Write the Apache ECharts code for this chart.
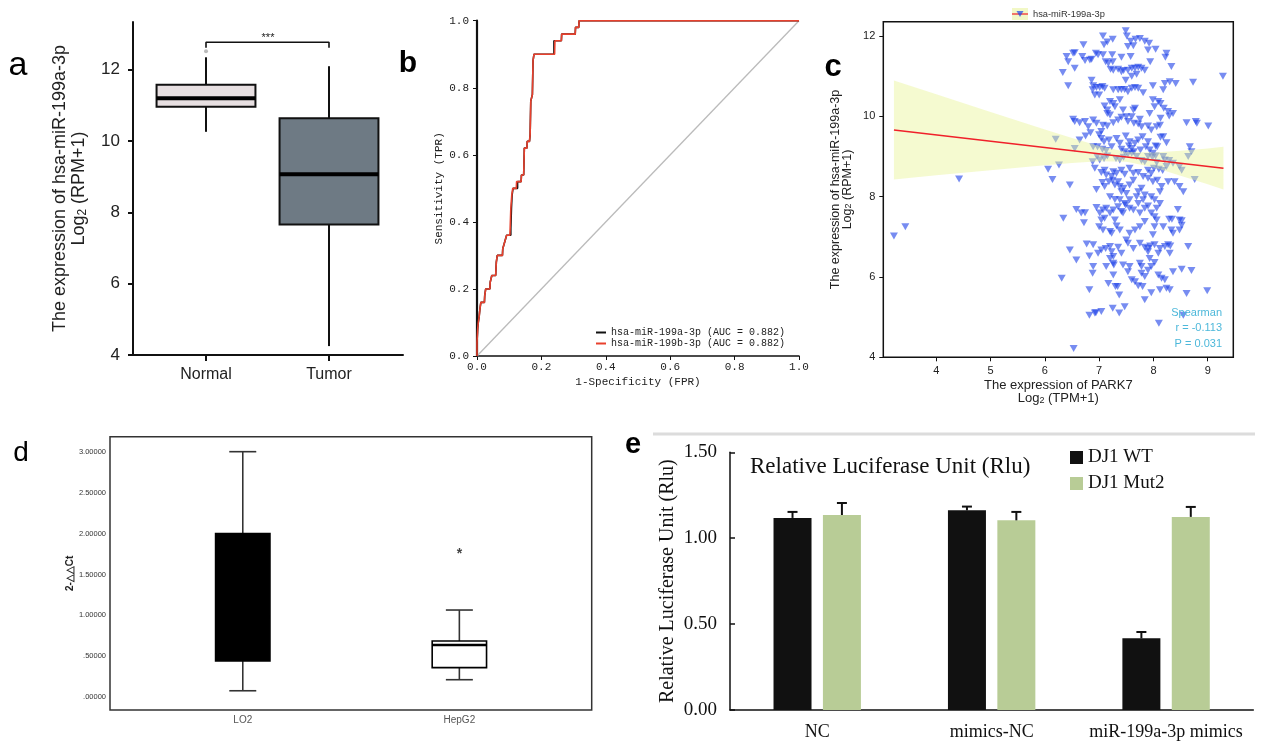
<!DOCTYPE html>
<html>
<head>
<meta charset="utf-8">
<title>hsa-miR-199a-3p and PARK7</title>
<script src="https://cdn.jsdelivr.net/npm/echarts@6/dist/echarts.min.js"></script>
<style>
html, body { margin: 0; padding: 0; background: #fff; }
#container0 { width: 1265px; height: 745px; }
</style>
</head>
<body>
<div id="container0"></div>
<script>
var SANS = 'Liberation Sans, Arial, sans-serif';
var SERIF = 'Liberation Serif, Times New Roman, serif';
var MONO = 'Liberation Mono, DejaVu Sans Mono, monospace';

// a: 表达量箱线图 (min, Q1, median, Q3, max)
var aCats = ['Normal', 'Tumor'];
var aBox = [[10.26, 10.96, 11.20, 11.58, 12.35], [4.25, 7.66, 9.07, 10.64, 12.10]];
var aOutlier = [[1, 12.52]];
var aBracket = [[1, 12.62], [1, 12.77], [2, 12.77], [2, 12.62]];
var aTicks = [4, 6, 8, 10, 12];

// b: ROC
var rocRed = [[0, 0], [0, 0.04], [0.002, 0.08], [0.004, 0.1], [0.007, 0.12], [0.009, 0.14], [0.012, 0.16], [0.023, 0.16],
    [0.024, 0.18], [0.027, 0.2], [0.04, 0.2], [0.041, 0.22], [0.046, 0.24], [0.058, 0.24], [0.06, 0.28], [0.063, 0.3],
    [0.079, 0.3], [0.08, 0.32], [0.086, 0.34], [0.092, 0.36], [0.102, 0.36], [0.103, 0.38], [0.105, 0.44], [0.108, 0.48],
    [0.111, 0.5], [0.122, 0.5], [0.123, 0.52], [0.137, 0.52], [0.138, 0.54], [0.145, 0.54], [0.147, 0.62], [0.155, 0.62],
    [0.156, 0.64], [0.163, 0.64], [0.165, 0.66], [0.167, 0.76], [0.172, 0.78], [0.174, 0.88], [0.177, 0.9], [0.241, 0.9],
    [0.242, 0.94], [0.262, 0.94], [0.263, 0.96], [0.305, 0.96], [0.306, 0.98], [0.316, 0.98], [0.317, 1.0], [1, 1]];
var rocBlack = [[0, 0], [0, 0.04], [0.002, 0.08], [0.004, 0.1], [0.007, 0.12], [0.009, 0.14], [0.012, 0.16], [0.023, 0.16],
    [0.024, 0.18], [0.027, 0.2], [0.04, 0.2], [0.041, 0.22], [0.046, 0.24], [0.058, 0.24], [0.06, 0.28], [0.063, 0.3],
    [0.079, 0.3], [0.08, 0.32], [0.086, 0.34], [0.092, 0.36], [0.105, 0.36], [0.105, 0.38], [0.107, 0.44], [0.109, 0.48],
    [0.112, 0.5], [0.126, 0.5], [0.126, 0.52], [0.137, 0.52], [0.138, 0.54], [0.145, 0.54], [0.147, 0.62], [0.155, 0.62],
    [0.156, 0.64], [0.163, 0.64], [0.165, 0.66], [0.167, 0.76], [0.172, 0.78], [0.174, 0.88], [0.177, 0.9], [0.239, 0.9],
    [0.239, 0.94], [0.262, 0.94], [0.263, 0.96], [0.305, 0.96], [0.306, 0.98], [0.316, 0.98], [0.317, 1.0], [1, 1]];
var rocRef = [[0, 0], [1, 1]];
var rocNames = ['hsa-miR-199a-3p (AUC = 0.882)', 'hsa-miR-199b-3p (AUC = 0.882)'];

// c: PARK7 与 miR-199a-3p 散点
var park7Mir = [
    [7.49,12.13],[7.07,12.0],[7.25,11.92],[7.15,11.85],[7.09,11.78],[7.51,12.0],[7.58,11.87],[7.63,11.76],[7.53,11.74],[7.75,11.94],
    [7.67,11.92],[7.84,11.87],[7.92,11.82],[7.90,11.65],[8.04,11.67],[6.71,11.78],[6.86,11.42],[8.24,11.57],[8.22,11.47],[8.33,11.24],
    [6.40,11.49],[6.43,11.36],[6.52,11.57],[6.55,11.58],[6.55,11.20],[6.69,11.49],[6.74,11.39],[6.83,11.40],[6.94,11.57],[6.98,11.53],
    [7.07,11.53],[7.12,11.36],[7.17,11.32],[7.24,11.53],[7.25,11.36],[7.41,11.47],[7.58,11.49],[7.94,11.36],[7.21,11.17],[7.26,11.15],
    [7.35,11.17],[7.41,11.11],[7.45,11.14],[7.53,11.15],[7.60,11.20],[7.66,11.20],[7.72,11.22],[7.78,11.20],[7.84,11.15],[7.69,11.05],
    [7.60,11.00],[7.49,10.90],[6.33,11.09],[6.43,10.76],[9.28,11.00],[8.73,10.85],
    [6.86,10.90],[6.89,10.76],[6.95,10.72],[7.01,10.72],[7.06,10.74],[6.88,10.66],[6.92,10.53],[7.00,10.53],[7.10,10.70],[7.26,10.66],
    [7.35,10.66],[7.41,10.67],[7.47,10.67],[7.53,10.61],[7.60,10.70],[7.66,10.72],[7.72,10.70],[7.81,10.59],[7.99,10.76],[8.18,10.66],
    [8.30,10.86],[8.41,10.82],[8.21,10.82],[7.99,10.41],[8.09,10.37],[8.13,10.32],[8.02,10.24],[8.19,10.20],[8.27,10.12],[8.36,10.07],
    [7.20,10.37],[7.26,10.32],[7.38,10.41],[7.15,10.16],[7.20,10.03],[7.29,10.24],[7.44,10.16],[7.50,9.99],[7.60,9.99],[7.63,10.16],
    [7.66,10.20],[7.75,9.93],[7.93,10.07],[8.13,9.95],[8.29,10.01],[7.15,10.07],[7.10,10.26],[6.95,9.83],[7.04,9.62],
    [6.52,9.93],[6.55,9.87],[6.64,9.84],[6.74,9.87],[6.80,9.74],[6.89,9.91],[7.07,9.78],[7.15,9.76],[7.26,9.84],[7.35,9.91],
    [7.41,9.98],[7.53,9.87],[7.64,9.83],[7.72,9.81],[7.78,9.74],[7.90,9.76],[7.96,9.66],[8.06,9.74],[8.12,9.78],[8.61,9.84],
    [8.78,9.87],[8.80,9.83],[9.01,9.76],
    [6.20,9.43],[6.55,9.20],[6.64,9.41],[6.75,9.51],[6.84,9.59],[7.00,9.54],[7.04,9.45],[7.09,9.37],[7.18,9.41],[7.23,9.24],
    [7.32,9.45],[7.38,9.33],[7.49,9.51],[7.56,9.37],[7.66,9.33],[7.72,9.41],[7.80,9.49],[7.86,9.24],[7.90,9.37],[7.93,9.16],
    [8.04,9.26],[8.13,9.48],[8.18,9.49],[8.24,9.34],[6.89,9.24],[6.97,9.24],[7.06,9.18],[7.13,9.15],[7.41,9.18],[7.47,9.12],
    [7.55,9.26],[7.60,9.20],[7.64,9.12],[7.76,9.16],[7.99,9.08],[8.07,9.24],[8.67,9.24],[8.04,9.01],
    [6.06,8.68],[6.26,8.79],[6.14,8.43],[6.46,8.29],[6.88,8.87],[6.96,9.00],[7.01,8.91],[7.09,8.95],[7.15,9.01],[7.31,8.95],
    [7.38,8.91],[7.45,8.98],[7.53,9.06],[7.60,9.08],[7.69,9.00],[7.78,8.90],[7.84,8.87],[7.90,9.00],[7.98,8.98],[8.06,8.85],
    [8.18,9.00],[8.21,8.91],[8.29,8.90],[8.36,8.83],[8.48,8.75],[8.52,8.66],[8.64,9.00],[8.70,9.12],[8.76,8.43],[6.92,8.71],
    [7.04,8.60],[7.10,8.66],[7.13,8.54],[7.23,8.50],[7.26,8.62],[7.32,8.58],[7.41,8.66],[7.47,8.56],[7.56,8.71],[7.63,8.58],
    [7.72,8.60],[7.81,8.50],[7.90,8.66],[7.96,8.58],[8.01,8.71],[8.10,8.68],[8.17,8.65],[8.24,8.75],
    [6.95,8.18],[7.06,8.35],[7.10,8.25],[7.18,8.37],[7.25,8.41],[7.29,8.29],[7.35,8.37],[7.38,8.25],[7.41,8.12],[7.45,8.21],
    [7.50,8.08],[7.56,8.29],[7.63,8.41],[7.72,8.12],[7.78,8.21],[7.84,8.04],[7.90,8.46],[7.99,8.37],[8.07,8.41],[8.15,8.25],
    [8.27,8.37],[8.39,8.37],[8.48,8.25],[8.55,8.12],[7.20,8.00],[7.29,7.93],[7.38,7.92],[7.47,7.83],[7.56,7.92],[7.69,8.00],
    [7.81,7.92],[7.96,8.00],[8.02,7.92],[8.12,8.12],
    [6.58,7.68],[6.67,7.59],[6.74,7.60],[6.34,7.46],[6.72,7.35],[6.95,7.73],[7.01,7.59],[7.07,7.67],[7.13,7.71],[7.10,7.46],
    [7.20,7.59],[7.26,7.67],[7.29,7.42],[7.35,7.75],[7.41,7.63],[7.44,7.59],[7.49,7.79],[7.56,7.71],[7.63,7.67],[7.72,7.83],
    [7.75,7.59],[7.84,7.71],[7.90,7.77],[7.96,7.59],[8.02,7.50],[8.06,7.71],[8.12,7.83],[8.18,7.25],[8.29,7.44],[8.33,7.17],
    [8.36,7.09],[8.45,7.68],[8.48,7.42],[8.52,7.29],[8.34,7.44],[8.52,7.40],[7.04,7.42],[7.00,7.25],[7.07,7.17],[7.20,7.13],
    [7.23,7.09],[7.32,7.27],[7.38,7.17],[7.56,7.09],[7.66,7.17],[7.75,7.25],[7.84,7.38],[7.99,7.05],[8.06,7.42],[8.02,7.25],
    [6.46,6.67],[6.58,6.42],[6.77,6.82],[6.89,6.80],[6.82,6.52],[6.98,6.59],[7.04,6.67],[7.12,6.71],[7.20,6.76],[7.23,6.63],
    [7.26,6.51],[7.35,6.74],[7.41,6.59],[7.50,6.92],[7.53,6.84],[7.63,6.71],[7.75,6.84],[7.84,6.74],[7.90,6.71],[7.94,6.77],
    [8.02,6.80],[8.12,6.71],[8.21,6.76],[8.31,6.77],[8.48,7.17],[8.64,6.76],[8.09,6.59],[7.93,6.46],[7.90,6.63],[7.75,6.34],
    [7.78,6.26],[7.26,6.34],[7.27,6.30],[7.20,6.46],[8.30,6.59],[8.27,6.80],
    [6.31,5.97],[6.82,5.68],[6.89,6.26],[6.88,6.09],[7.13,6.26],[7.17,5.84],[7.26,6.05],[7.30,5.76],[7.34,5.76],[7.37,5.55],
    [7.44,6.30],[7.53,6.13],[7.56,6.26],[7.60,5.93],[7.66,5.88],[7.72,5.78],[7.78,6.09],[7.84,6.01],[7.90,6.17],[7.96,6.26],
    [8.02,6.36],[8.09,6.05],[8.15,5.97],[8.21,5.93],[8.24,5.72],[8.30,5.68],[8.36,6.13],[8.52,6.19],[8.70,6.16],[8.99,5.66],
    [8.61,5.59],[7.84,5.43],[7.80,5.76],[7.96,5.61],[8.12,5.68],
    [6.82,5.05],[6.92,5.10],[7.04,5.14],[7.25,5.22],[7.37,5.10],[7.47,5.26],[8.10,4.85],[8.55,5.05],[6.53,4.22],[6.94,5.11],
    [3.22,7.02],[3.43,7.25],[4.42,8.44]
];
var fitLine = [[3.22, 9.66], [9.29, 8.71]];
var bandX = [3.22, 4, 5, 6, 6.5, 7, 7.5, 8, 8.5, 9, 9.29];
var bandUpper = [10.89, 10.55, 10.11, 9.67, 9.46, 9.26, 9.11, 9.10, 9.14, 9.20, 9.24];
var bandLower = [8.43, 8.53, 8.66, 8.78, 8.84, 8.88, 8.87, 8.73, 8.52, 8.31, 8.18];
var cXTicks = [4, 5, 6, 7, 8, 9];
var cYTicks = [4, 6, 8, 10, 12];

// d: qPCR 箱线图
var dCats = ['LO2', 'HepG2'];
var dBox = [[0.08, 0.443, 0.98, 2.0, 3.0], [0.215, 0.362, 0.639, 0.688, 1.066]];
var dOutlier = [[2, 1.78]];
var dTicks = [0, 0.5, 1, 1.5, 2, 2.5, 3];

// e: 荧光素酶
var eCats = ['NC', 'mimics-NC', 'miR-199a-3p mimics'];
var wtMean = [1.118, 1.162, 0.417];
var wtErr = [0.035, 0.022, 0.037];
var mutMean = [1.135, 1.104, 1.124];
var mutErr = [0.070, 0.049, 0.058];

function boxRenderer(halfW, capW, fills, st) {
    return function (params, api) {
        var x = api.value(0);
        var lo = api.coord([x, api.value(1)]);
        var q1 = api.coord([x, api.value(2)]);
        var md = api.coord([x, api.value(3)]);
        var q3 = api.coord([x, api.value(4)]);
        var hi = api.coord([x, api.value(5)]);
        var l = api.coord([x - halfW, api.value(3)])[0];
        var r = api.coord([x + halfW, api.value(3)])[0];
        var cx = lo[0];
        var ws = {stroke: st.whisker, lineWidth: st.whiskerWidth};
        var kids = [
            {type: 'line', shape: {x1: cx, y1: q3[1], x2: cx, y2: hi[1]}, style: ws},
            {type: 'line', shape: {x1: cx, y1: q1[1], x2: cx, y2: lo[1]}, style: ws},
            {type: 'rect', shape: {x: l, y: q3[1], width: r - l, height: q1[1] - q3[1]},
                style: {fill: fills[params.dataIndex], stroke: st.border, lineWidth: st.borderWidth}},
            {type: 'line', shape: {x1: l, y1: md[1], x2: r, y2: md[1]},
                style: {stroke: st.median, lineWidth: st.medianWidth}}
        ];
        if (capW > 0) {
            var cl = api.coord([x - capW, api.value(3)])[0];
            var cr = api.coord([x + capW, api.value(3)])[0];
            kids.push({type: 'line', shape: {x1: cl, y1: hi[1], x2: cr, y2: hi[1]}, style: ws});
            kids.push({type: 'line', shape: {x1: cl, y1: lo[1], x2: cr, y2: lo[1]}, style: ws});
        }
        return {type: 'group', children: kids};
    };
}

function errRenderer(dx) {
    return function (params, api) {
        var c = api.value(0);
        var p0 = api.coord([c, api.value(1)]);
        var p1 = api.coord([c, api.value(1) + api.value(2)]);
        var x = p0[0] + dx;
        var s = {stroke: '#111', lineWidth: 2};
        return {type: 'group', children: [
            {type: 'line', shape: {x1: x, y1: p0[1], x2: x, y2: p1[1]}, style: s},
            {type: 'line', shape: {x1: x - 5, y1: p1[1], x2: x + 5, y2: p1[1]}, style: s}
        ]};
    };
}

function bandRenderer(params, api) {
    if (params.dataIndex !== 0) return;
    var pts = [], i;
    for (i = 0; i < bandX.length; i++) pts.push(api.coord([bandX[i], bandUpper[i]]));
    for (i = bandX.length - 1; i >= 0; i--) pts.push(api.coord([bandX[i], bandLower[i]]));
    return {type: 'polygon', shape: {points: pts}, style: {fill: 'rgba(232,244,150,0.45)'}};
}

function txt(x, y, text, font, color, align, z) {
    return {type: 'text', x: x, y: y, z: z || 10,
        style: {text: text, font: font, fill: color || '#000', textAlign: align || 'center', textVerticalAlign: 'middle'}};
}

var noSplit = {show: false};

var option = {
    animation: false,
    backgroundColor: '#fff',
    textStyle: {fontFamily: SANS},
    grid: [
        {left: 133, top: 22, width: 270, height: 333},
        {left: 477, top: 20.7, width: 322, height: 335.3},
        {left: 883.3, top: 21.7, width: 350, height: 335.6, show: true, borderColor: '#111', borderWidth: 1.5},
        {left: 110, top: 436.7, width: 481.7, height: 273.3, show: true, borderColor: '#333', borderWidth: 1.5},
        {left: 730, top: 452.3, width: 523.3, height: 257.7}
    ],
    xAxis: [
        {gridIndex: 0, type: 'value', min: 0.4065, max: 2.6016, splitLine: noSplit,
            axisLine: {lineStyle: {color: '#111', width: 2}},
            axisTick: {customValues: [1, 2], length: 6, lineStyle: {color: '#111', width: 2}},
            axisLabel: {customValues: [1, 2], margin: 12, fontSize: 16, color: '#222', fontFamily: SANS,
                formatter: function (v) { return aCats[Math.round(v) - 1]; }}},
        {gridIndex: 1, type: 'value', min: 0, max: 1, interval: 0.2, splitLine: noSplit,
            name: '1-Specificity (FPR)', nameLocation: 'middle', nameGap: 21,
            nameTextStyle: {fontFamily: MONO, fontSize: 11, color: '#222'},
            axisLine: {lineStyle: {color: '#111', width: 1.5}},
            axisTick: {length: 4, lineStyle: {color: '#111'}},
            axisLabel: {margin: 6, fontSize: 11, color: '#222', fontFamily: MONO,
                formatter: function (v) { return v.toFixed(1); }}},
        {gridIndex: 2, type: 'value', min: 3.024, max: 9.471, splitLine: noSplit,
            name: '{t|The expression of PARK7}\n{t|Log}{s|2}{t| (TPM+1)}', nameLocation: 'middle', nameGap: 22,
            nameTextStyle: {color: '#222', rich: {
                t: {fontSize: 13, lineHeight: 13, fontFamily: SANS, color: '#222'},
                s: {fontSize: 9, lineHeight: 5, verticalAlign: 'bottom', fontFamily: SANS, color: '#222'}}},
            axisLine: {show: false},
            axisTick: {customValues: cXTicks, length: 4, lineStyle: {color: '#111'}},
            axisLabel: {customValues: cXTicks, margin: 8, fontSize: 11, color: '#222'}},
        {gridIndex: 3, type: 'value', min: 0.387, max: 2.611, splitLine: noSplit,
            axisLine: {show: false}, axisTick: {show: false},
            axisLabel: {customValues: [1, 2], margin: 5, fontSize: 10, color: '#555',
                formatter: function (v) { return dCats[Math.round(v) - 1]; }}},
        {gridIndex: 4, type: 'category', data: eCats, splitLine: noSplit,
            axisLine: {lineStyle: {color: '#111', width: 1.5}},
            axisTick: {inside: true, length: 6, lineStyle: {color: '#111', width: 1.5}},
            axisLabel: {interval: 0, hideOverlap: false, margin: 13, fontSize: 18, color: '#111', fontFamily: SERIF}}
    ],
    yAxis: [
        {gridIndex: 0, type: 'value', min: 4, max: 13.34, splitLine: noSplit,
            name: '{t|The expression of hsa-miR-199a-3p}\n{t|Log}{s|2}{t| (RPM+1)}', nameLocation: 'middle', nameGap: 44,
            nameTextStyle: {color: '#222', rich: {
                t: {fontSize: 18, lineHeight: 19, fontFamily: SANS, color: '#222'},
                s: {fontSize: 12, lineHeight: 7, verticalAlign: 'bottom', fontFamily: SANS, color: '#222'}}},
            axisLine: {lineStyle: {color: '#111', width: 2}},
            axisTick: {customValues: aTicks, length: 5, lineStyle: {color: '#111', width: 2}},
            axisLabel: {customValues: aTicks, margin: 13, fontSize: 17, color: '#222'}},
        {gridIndex: 1, type: 'value', min: 0, max: 1, interval: 0.2, splitLine: noSplit,
            name: 'Sensitivity (TPR)', nameLocation: 'middle', nameGap: 32,
            nameTextStyle: {fontFamily: MONO, fontSize: 11, color: '#222'},
            axisLine: {lineStyle: {color: '#111', width: 2.2}},
            axisTick: {length: 4, lineStyle: {color: '#111'}},
            axisLabel: {margin: 8, fontSize: 11, color: '#222', fontFamily: MONO,
                formatter: function (v) { return v.toFixed(1); }}},
        {gridIndex: 2, type: 'value', min: 4, max: 12.356, splitLine: noSplit,
            name: '{t|The expression of hsa-miR-199a-3p}\n{t|Log}{s|2}{t| (RPM+1)}', nameLocation: 'middle', nameGap: 30,
            nameTextStyle: {color: '#222', rich: {
                t: {fontSize: 12.5, lineHeight: 12, fontFamily: SANS, color: '#222'},
                s: {fontSize: 9, lineHeight: 4, verticalAlign: 'bottom', fontFamily: SANS, color: '#222'}}},
            axisLine: {show: false},
            axisTick: {customValues: cYTicks, length: 4, lineStyle: {color: '#111'}},
            axisLabel: {customValues: cYTicks, margin: 8, fontSize: 11, color: '#222'}},
        {gridIndex: 3, type: 'value', min: -0.155, max: 3.183, splitLine: noSplit,
            name: '2-△△Ct', nameLocation: 'middle', nameGap: 35,
            nameTextStyle: {fontSize: 10, fontWeight: 'bold', color: '#222'},
            axisLine: {show: false}, axisTick: {show: false},
            axisLabel: {customValues: dTicks, margin: 4, fontSize: 7.5, color: '#333',
                formatter: function (v) { return v < 1 ? v.toFixed(5).slice(1) : v.toFixed(5); }}},
        {gridIndex: 4, type: 'value', min: 0, max: 1.5, interval: 0.5, splitLine: noSplit,
            name: 'Relative Luciferase Unit (Rlu)', nameLocation: 'middle', nameGap: 52,
            nameTextStyle: {fontFamily: SERIF, fontSize: 20, color: '#111'},
            axisLine: {show: true, lineStyle: {color: '#111', width: 1.5}},
            axisTick: {show: true, inside: true, length: 5, lineStyle: {color: '#111', width: 1.5}},
            axisLabel: {margin: 13, fontSize: 19, color: '#111', fontFamily: SERIF,
                formatter: function (v) { return v.toFixed(2); }}}
    ],
    legend: [
        {left: 596, top: 327, orient: 'vertical', padding: 0, itemGap: 0, itemWidth: 10, itemHeight: 2,
            icon: 'rect', data: rocNames,
            textStyle: {fontFamily: MONO, fontSize: 10, lineHeight: 11, color: '#222'}},
        {left: 1070, top: 447.5, orient: 'vertical', padding: 0, itemGap: 6, itemWidth: 13, itemHeight: 13,
            icon: 'rect', data: ['DJ1 WT', 'DJ1 Mut2'],
            textStyle: {fontFamily: SERIF, fontSize: 19, lineHeight: 20, color: '#111'}}
    ],
    series: [
        // a
        {type: 'custom', xAxisIndex: 0, yAxisIndex: 0, encode: {x: 0, y: [1, 2, 3, 4, 5]},
            data: aBox.map(function (b, i) { return [i + 1].concat(b); }),
            renderItem: boxRenderer(0.402, 0, ['#e7dfe1', '#6e7a84'],
                {whisker: '#111', whiskerWidth: 2, border: '#111', borderWidth: 2, median: '#000', medianWidth: 4})},
        {type: 'scatter', xAxisIndex: 0, yAxisIndex: 0, data: aOutlier, symbolSize: 4,
            itemStyle: {color: '#aaa'}},
        {type: 'line', xAxisIndex: 0, yAxisIndex: 0, data: aBracket, symbol: 'none',
            lineStyle: {color: '#111', width: 1.6}},
        // b
        {type: 'line', xAxisIndex: 1, yAxisIndex: 1, data: rocRef, symbol: 'none',
            lineStyle: {color: '#bbb', width: 1.3}},
        {name: rocNames[0], type: 'line', xAxisIndex: 1, yAxisIndex: 1, data: rocBlack, symbol: 'none',
            itemStyle: {color: '#111'}, lineStyle: {color: '#111', width: 1.6}},
        {name: rocNames[1], type: 'line', xAxisIndex: 1, yAxisIndex: 1, data: rocRed, symbol: 'none',
            itemStyle: {color: '#e8402d'}, lineStyle: {color: '#e8402d', width: 1.6}},
        // c
        {type: 'scatter', xAxisIndex: 2, yAxisIndex: 2, data: park7Mir, z: 2,
            symbol: 'triangle', symbolRotate: 180, symbolSize: [8, 7],
            itemStyle: {color: 'rgba(25,60,232,0.74)'}},
        {type: 'custom', xAxisIndex: 2, yAxisIndex: 2, z: 3, encode: {x: 0, y: [1, 2]},
            data: bandX.map(function (x, i) { return [x, bandUpper[i], bandLower[i]]; }),
            renderItem: bandRenderer},
        {type: 'line', xAxisIndex: 2, yAxisIndex: 2, data: fitLine, symbol: 'none', z: 4,
            lineStyle: {color: '#f0202a', width: 1.5}},
        // d
        {type: 'custom', xAxisIndex: 3, yAxisIndex: 3, encode: {x: 0, y: [1, 2, 3, 4, 5]},
            data: dBox.map(function (b, i) { return [i + 1].concat(b); }),
            renderItem: boxRenderer(0.1255, 0.0623, ['#000', '#fff'],
                {whisker: '#333', whiskerWidth: 1.6, border: '#000', borderWidth: 1.6, median: '#000', medianWidth: 2.5})},
        {type: 'scatter', xAxisIndex: 3, yAxisIndex: 3, data: dOutlier, symbolSize: 1,
            itemStyle: {color: 'rgba(0,0,0,0)'},
            label: {show: true, position: 'inside', formatter: '*', fontSize: 14, fontWeight: 'bold',
                color: '#111', offset: [0, 3]}},
        // e
        {name: 'DJ1 WT', type: 'bar', xAxisIndex: 4, yAxisIndex: 4, data: wtMean, barWidth: 38, barGap: '30%',
            itemStyle: {color: '#111'}},
        {name: 'DJ1 Mut2', type: 'bar', xAxisIndex: 4, yAxisIndex: 4, data: mutMean, barWidth: 38, barGap: '30%',
            itemStyle: {color: '#b8cc96'}},
        {type: 'custom', xAxisIndex: 4, yAxisIndex: 4, encode: {x: 0, y: 1}, z: 5,
            data: wtMean.map(function (v, i) { return [i, v, wtErr[i]]; }),
            renderItem: errRenderer(-24.7)},
        {type: 'custom', xAxisIndex: 4, yAxisIndex: 4, encode: {x: 0, y: 1}, z: 5,
            data: mutMean.map(function (v, i) { return [i, v, mutErr[i]]; }),
            renderItem: errRenderer(24.7)}
    ],
    graphic: [
        txt(18, 66, 'a', '34px ' + SANS),
        txt(408, 64, 'b', 'bold 30px ' + SANS),
        txt(833, 67, 'c', 'bold 31px ' + SANS),
        txt(21, 453, 'd', '28px ' + SANS),
        txt(633, 445, 'e', 'bold 29px ' + SANS),
        txt(268, 38, '***', '11px ' + SANS, '#222'),
        {type: 'rect', shape: {x: 1012, y: 8, width: 16, height: 12}, style: {fill: '#f2f8c6'}, z: 10},
        {type: 'line', shape: {x1: 1012, y1: 14, x2: 1028, y2: 14}, style: {stroke: '#f0202a', lineWidth: 1.2}, z: 11},
        {type: 'polygon', shape: {points: [[1016.5, 11], [1023.5, 11], [1020, 17]]},
            style: {fill: 'rgba(30,70,235,0.7)'}, z: 12},
        txt(1033, 14, 'hsa-miR-199a-3p', '9.3px ' + SANS, '#333', 'left'),
        txt(1222, 312.7, 'Spearman', '11px ' + SANS, '#4db8da', 'right', 0),
        txt(1222, 328.3, 'r = -0.113', '11px ' + SANS, '#4db8da', 'right', 0),
        txt(1222, 344, 'P = 0.031', '11px ' + SANS, '#4db8da', 'right', 0),
        {type: 'line', shape: {x1: 653, y1: 434, x2: 1255, y2: 434}, style: {stroke: '#dcdcdc', lineWidth: 3}, z: 1},
        txt(750, 466.7, 'Relative Luciferase Unit (Rlu)', '23px ' + SERIF, '#111', 'left')
    ]
};

var chart_0 = echarts.init(document.getElementById('container0'));
chart_0.setOption(option);
</script>
</body>
</html>
